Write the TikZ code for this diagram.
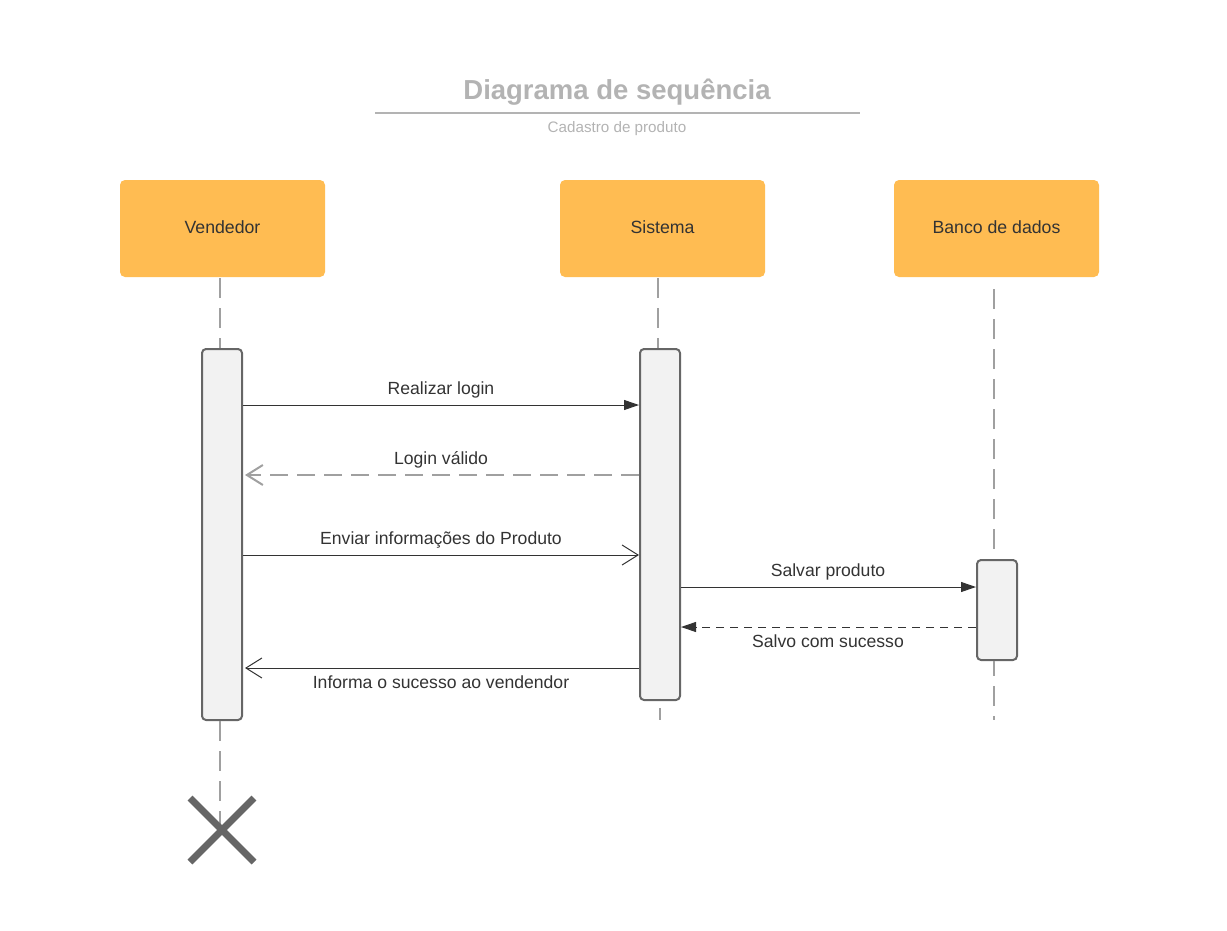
\documentclass[tikz,border=0pt]{standalone}
\usepackage{fontspec}
\setmainfont{Liberation Sans}
\usetikzlibrary{arrows.meta}
\definecolor{hdr}{HTML}{FFBC52}
\definecolor{txt}{HTML}{333333}
\definecolor{ttl}{HTML}{B3B3B3}
\definecolor{life}{HTML}{A0A0A0}
\definecolor{actb}{HTML}{666666}
\definecolor{actf}{HTML}{F2F2F2}
\begin{document}
\begin{tikzpicture}[x=1pt,y=-1pt,
  header/.style={fill=hdr,rounded corners=5pt,minimum width=205pt,minimum height=97pt,inner sep=0pt,text=txt,font=\fontsize{17.7}{20}\selectfont},
  actbox/.style={draw=actb,fill=actf,line width=2pt,rounded corners=4pt,minimum width=40pt,inner sep=0pt},
  lifeline/.style={draw=life,line width=2pt,dash pattern=on 20pt off 10pt},
  msg/.style={draw=txt,line width=1pt},
  filledtip/.style={-{Triangle[length=15pt,width=10pt]}},
  opentip/.style={-{Straight Barb[length=16pt,width=20pt,line width=1pt]}},
  mlabel/.style={text=txt,font=\fontsize{17.6}{20}\selectfont,inner sep=0pt},
]
\useasboundingbox (0,0) rectangle (1227,930);
% title
\node[text=ttl,font=\bfseries\fontsize{27.5}{32}\selectfont] (title) at (617,92) {Diagrama de sequência};
\draw[ttl,line width=2pt] (375,113) coordinate (tl) -- (860,113) coordinate (tr);
\node[text=ttl,font=\fontsize{15.2}{18}\selectfont] (subtitle) at (617,129) {Cadastro de produto};
% headers
\node[header] (vend) at (222.5,228.5) {\raisebox{2pt}{Vendedor}};
\node[header] (sist) at (662.5,228.5) {\raisebox{2pt}{Sistema}};
\node[header] (banco) at (996.5,228.5) {\raisebox{2pt}{Banco de dados}};
% activation boxes
\node[actbox,minimum height=371pt] (vact) at (222,534.5) {};
\node[actbox,minimum height=351pt] (sact) at (660,524.5) {};
\node[actbox,minimum height=100pt] (bact) at (997,610) {};
% lifeline coordinates
\coordinate (vend-top) at (220,278);
\coordinate (vend-end) at (220,826);
\coordinate (sist-top) at (658,278);
\coordinate (sist-b1) at (660,708);
\coordinate (sist-b2) at (660,720);
\coordinate (banco-top) at (994,289);
\coordinate (banco-end) at (994,720);
% lifelines
\draw[lifeline] (vend-top) -- (vend-top |- vact.north);
\draw[lifeline] (vend-top |- vact.south) -- (vend-end);
\draw[lifeline] (sist-top) -- (sist-top |- sact.north);
\draw[life,line width=2pt] (sist-b1) -- (sist-b2);
\draw[lifeline] (banco-top) -- (banco-top |- bact.north);
\draw[lifeline,dash phase=5pt] (banco-top |- bact.south) -- (banco-end);
% message levels
\coordinate (y1) at (0,405);
\coordinate (y2) at (0,475);
\coordinate (y3) at (0,555);
\coordinate (y4) at (0,587);
\coordinate (y5) at (0,627);
\coordinate (y6) at (0,668);
% messages
\draw[msg,filledtip] (vact.east |- y1) -- (sact.west |- y1);
\node[mlabel] (l1) at (441,390) {Realizar login};
\draw[draw=life,line width=2pt,dash pattern=on 18pt off 9pt,-{Straight Barb[length=16pt,width=20pt,line width=2pt]}] (sact.west |- y2) -- ([xshift=2pt]vact.east |- y2);
\node[mlabel] (l2) at (441,460) {Login válido};
\draw[msg,opentip] (vact.east |- y3) -- (sact.west |- y3);
\node[mlabel] (l3) at (441,540) {Enviar informações do Produto};
\draw[msg,filledtip] (sact.east |- y4) -- (bact.west |- y4);
\node[mlabel] (l4) at (828,572) {Salvar produto};
\draw[msg,dash pattern=on 8pt off 6pt,filledtip] (bact.west |- y5) -- (sact.east |- y5);
\node[mlabel] (l5) at (828,641) {Salvo com sucesso};
\draw[msg,opentip] (sact.west |- y6) -- ([xshift=2pt]vact.east |- y6);
\node[mlabel] (l6) at (441,682) {Informa o sucesso ao vendendor};
% destruction X
\coordinate (xc) at (222,830);
\draw[actb,line width=7pt] ([shift={(-32,-32)}]xc) -- ([shift={(32,32)}]xc);
\draw[actb,line width=7pt] ([shift={(32,-32)}]xc) -- ([shift={(-32,32)}]xc);
\end{tikzpicture}
\end{document}
